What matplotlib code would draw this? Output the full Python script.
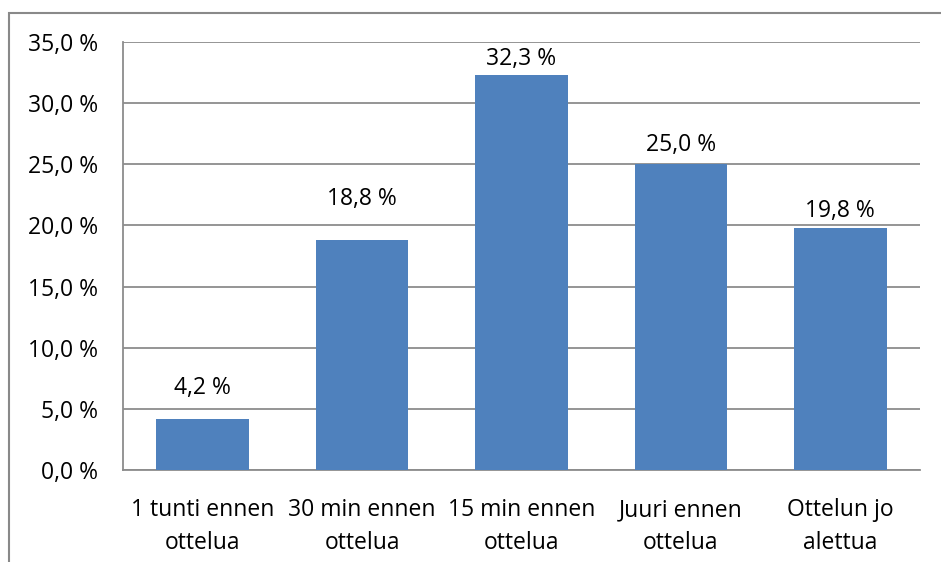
import matplotlib.pyplot as plt
from matplotlib.patches import Rectangle

# data
categories = ["1 tunti ennen\nottelua", "30 min ennen\nottelua", "15 min ennen\nottelua",
              "Juuri ennen\nottelua", "Ottelun jo\nalettua"]
values = [4.2, 18.8, 32.3, 25.0, 19.8]
# how far each value label sits above its bar (pixels)
label_lift = [31, 41, 16, 19, 17]

plt.rcParams['font.family'] = ['Open Sans', 'DejaVu Sans']
fs = 16.5

fig = plt.figure(figsize=(9.41, 5.62), dpi=100)
W, H = 941, 562

# outer chart frame, runs off the right and bottom edge
fig.patches.append(Rectangle((9 / W, -0.1), 1.2, 1 - 13 / H + 0.1, transform=fig.transFigure,
                             fill=False, edgecolor='#898989', linewidth=1.5))

ax = fig.add_axes([123 / W, 1 - 470 / H, (920 - 123) / W, (470 - 42) / H])
x = range(len(values))
ax.bar(x, values, width=0.58, color='#4F81BD', zorder=3)
ax.set_xlim(-0.5, len(values) - 0.5)
ax.set_ylim(0, 35)
ax.set_yticks([0, 5, 10, 15, 20, 25, 30, 35])
ax.set_yticklabels([("%.1f %%" % v).replace('.', ',') for v in ax.get_yticks()])
ax.set_xticks(list(x))
ax.set_xticklabels(categories, linespacing=1.5)
ax.grid(axis='y', color='#8c8c8c', linewidth=1.3, zorder=0)
for s in ['top', 'right']:
    ax.spines[s].set_visible(False)
for s in ['left', 'bottom']:
    ax.spines[s].set_color('#8c8c8c')
    ax.spines[s].set_linewidth(1.3)
ax.tick_params(axis='both', length=0, labelsize=fs, colors='black')
ax.tick_params(axis='y', pad=18)
ax.tick_params(axis='x', pad=20.5)

for i, v in enumerate(values):
    ax.annotate(("%.1f %%" % v).replace('.', ','), (i, v),
                xytext=(0, label_lift[i] * 0.72), textcoords='offset points',
                ha='center', va='center', fontsize=fs)

fig.savefig('out.png', dpi=100)
